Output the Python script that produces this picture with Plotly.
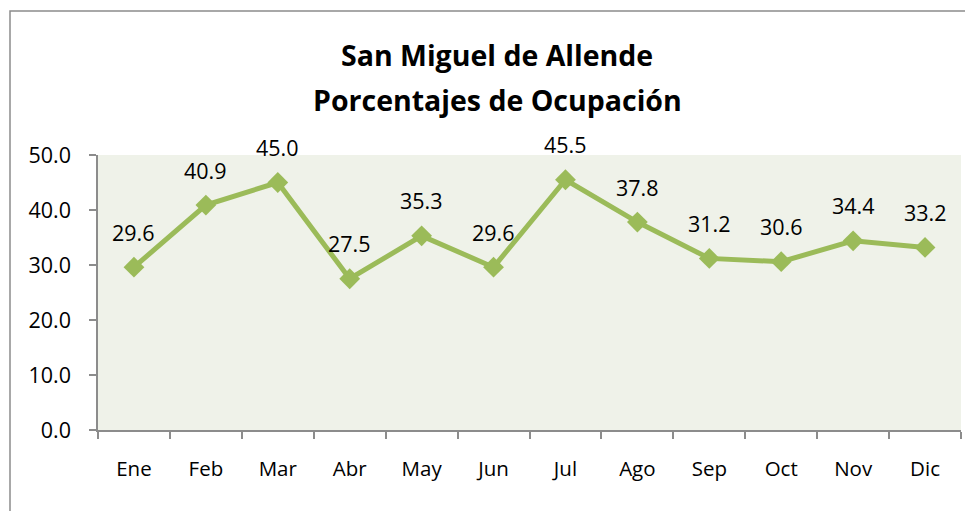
import plotly.graph_objects as go

months = ["Ene", "Feb", "Mar", "Abr", "May", "Jun", "Jul", "Ago", "Sep", "Oct", "Nov", "Dic"]
occupancy = [29.6, 40.9, 45.0, 27.5, 35.3, 29.6, 45.5, 37.8, 31.2, 30.6, 34.4, 33.2]
y_ticks = [0, 10, 20, 30, 40, 50]
y_tick_labels = ["0.0", "10.0", "20.0", "30.0", "40.0", "50.0"]

GREEN = "#9BBB59"
FONT = "Open Sans"

# page body has an 8px margin; work in figure coordinates (page - 8)
OFF = 8
W, H = 973 - OFF, 511 - OFF
L, R, T, B = 98 - OFF, 961 - OFF, 155 - OFF, 430 - OFF
pw, ph = R - L, B - T

def px(x):
    return (x - OFF - L) / pw

def py(y):
    return (B - (y - OFF)) / ph

fig = go.Figure()
fig.add_trace(go.Scatter(
    x=months, y=occupancy, mode="lines+markers",
    line=dict(color=GREEN, width=5),
    marker=dict(symbol="diamond", size=16, color=GREEN),
    hoverinfo="skip", cliponaxis=False,
))

for m, v in zip(months, occupancy):
    fig.add_annotation(x=m, y=v, text=f"{v:.1f}", showarrow=False,
                       yshift=35, font=dict(family=FONT, size=21.5, color="#000000"))

fig.add_shape(type="rect", xref="paper", yref="paper",
              x0=px(10), x1=px(1000), y0=py(540), y1=py(11),
              line=dict(color="#8C8C8C", width=1.5), fillcolor="rgba(0,0,0,0)", layer="below")

fig.add_annotation(xref="paper", yref="paper", x=px(497), y=py(55),
                   text="<b>San Miguel de Allende</b>", showarrow=False,
                   font=dict(family=FONT, size=28.5, color="#000000"), yanchor="middle")
fig.add_annotation(xref="paper", yref="paper", x=px(497), y=py(100),
                   text="<b>Porcentajes de Ocupación</b>", showarrow=False,
                   font=dict(family=FONT, size=28.5, color="#000000"), yanchor="middle")

fig.update_layout(
    width=W, height=H,
    margin=dict(l=L, r=W - R, t=T, b=H - B, pad=0),
    paper_bgcolor="#FFFFFF",
    plot_bgcolor="#EFF2E9",
    showlegend=False,
    font=dict(family=FONT, size=21, color="#000000"),
    xaxis=dict(
        type="category", range=[-0.5, 11.5], tickson="boundaries",
        showgrid=False, zeroline=False,
        showline=True, linecolor="#8C8C8C", linewidth=1.5,
        ticks="outside", ticklen=7, tickcolor="#8C8C8C", tickwidth=1.5,
        ticklabelstandoff=20,
        tickfont=dict(family=FONT, size=20.5),
    ),
    yaxis=dict(
        range=[0, 50], tickvals=y_ticks, ticktext=y_tick_labels,
        showgrid=False, zeroline=False,
        showline=True, linecolor="#8C8C8C", linewidth=1.5,
        ticks="outside", ticklen=7, tickcolor="#8C8C8C", tickwidth=1.5,
        ticklabelstandoff=14,
        tickfont=dict(family=FONT, size=21.5),
    ),
)

fig.write_html("out.html")
